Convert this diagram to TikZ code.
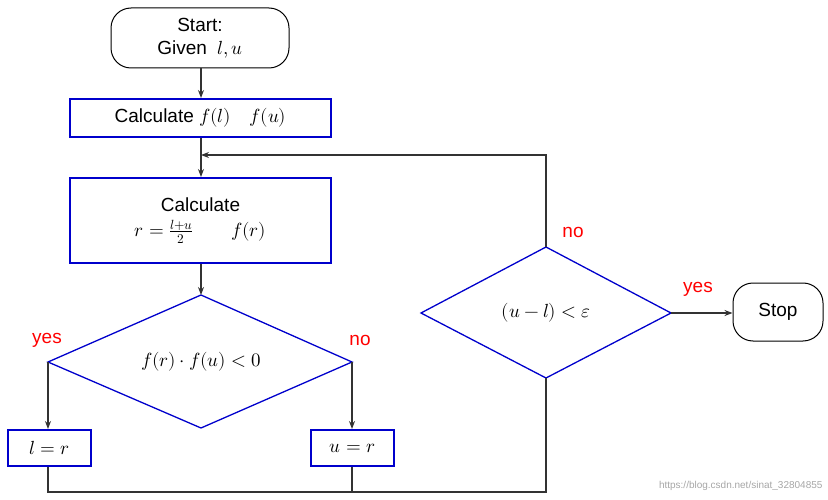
\documentclass[tikz,border=0pt]{standalone}
\usepackage{fontspec}
\usepackage{unicode-math}
\setmainfont{Liberation Sans}
\setmathfont{Latin Modern Math}
\usetikzlibrary{shapes.geometric,arrows.meta}
\begin{document}
\begin{tikzpicture}[x=1pt,y=-1pt,
  fnt/.style={font=\fontsize{19}{23}\selectfont},
  blbox/.style={draw=blue!80!black,line width=2pt,minimum height=38pt,inner sep=0pt,fnt},
  term/.style={draw,rounded corners=20pt,line width=1pt,inner sep=0pt,fnt,align=center},
  lab/.style={text=red,fnt},
  arr/.style={draw=black!80,line width=1.3pt,-{Stealth[length=8pt,width=6pt]}},
  ln/.style={draw=black!80,line width=1.3pt},
  dl/.style={draw=blue!80!black,line width=1.3pt}]
\useasboundingbox (0,0) rectangle (828,500);
\node[term,minimum width=178pt,minimum height=60pt] (start) at (200,38) {Start:\\Given\ \ $l,u$};
\node[blbox,minimum width=261pt] (b1) at (200.5,118) {Calculate $f(l)\quad f(u)$};
\node[blbox,minimum width=261pt,minimum height=85pt,align=center] (b2) at (200.5,220.5) {Calculate\\[2pt]$r=\frac{l+u}{2}\qquad f(r)$};
\draw[dl] (48,362) -- (201,295) -- (352,362) -- (201,428) -- cycle;
\node[fnt] (d1) at (201,362) {$f(r)\cdot f(u)<0$};
\coordinate (d1l) at (48,362); \coordinate (d1r) at (352,362);
\coordinate (d1t) at (201,295);
\node[blbox,minimum width=83pt,minimum height=36pt] (lr) at (49.5,448) {$l=r$};
\node[blbox,minimum width=83pt,minimum height=36pt] (ur) at (352.5,448) {$u=r$};
\draw[dl] (421,313) -- (546,247) -- (671,313) -- (546,378) -- cycle;
\node[fnt] (d2) at (546,313) {$(u-l)<\varepsilon$};
\coordinate (d2t) at (546,247); \coordinate (d2b) at (546,378); \coordinate (d2r) at (671,313);
\node[term,minimum width=90pt,minimum height=58pt] (stop) at (778,312) {Stop};
\coordinate (loop) at (201,155);
\draw[arr] (start.south -| d1t) -- (b1.north -| d1t);
\draw[ln] (b1.south -| d1t) -- (loop);
\draw[arr] (loop) -- (b2.north -| d1t);
\draw[arr] (b2.south -| d1t) -- (d1t);
\draw[arr] (d1l) -- (lr.north -| d1l);
\draw[arr] (d1r) -- (ur.north -| d1r);
\draw[ln] (lr.south -| d1l) -- (48,492) -- (546,492) -- (d2b);
\draw[ln] (ur.south -| d1r) -- (d1r |- 0,492);
\draw[arr] (d2t) -- (546,155) -- (loop);
\draw[arr] (d2r) -- (stop.west |- d2r);
\node[lab] (y1) at (47,340) {yes};
\node[lab] (n1) at (360,340) {no};
\node[lab] (n2) at (573,232) {no};
\node[lab] (y2) at (698,289) {yes};
\node[text=black!35,font=\fontsize{10}{11}\selectfont,anchor=east] (wm) at (826,486) {https://blog.csdn.net/sinat\_32804855};
\end{tikzpicture}
\end{document}
